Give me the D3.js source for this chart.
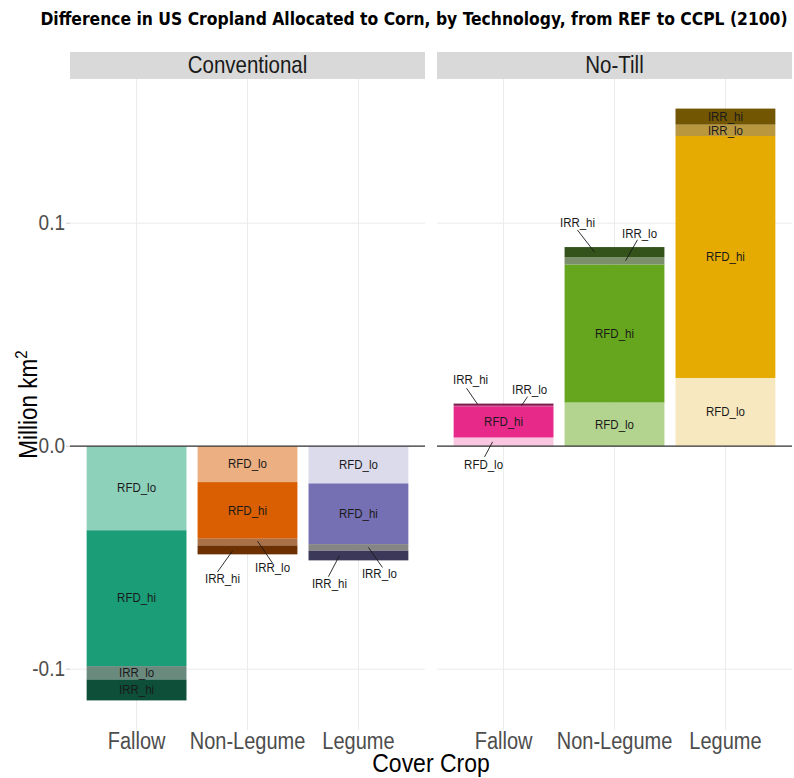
<!DOCTYPE html>
<html>
<head>
<meta charset="utf-8">
<script src="https://cdn.jsdelivr.net/npm/d3@7"></script>
<style>
  html, body { margin: 0; padding: 0; background: #ffffff; }
  svg { display: block; }
</style>
</head>
<body>
<svg id="chart" width="794" height="778"></svg>
<script>
// ---------------- DATA ----------------
const chartTitle = "Difference in US Cropland Allocated to Corn, by Technology, from REF to CCPL (2100)";
const technologies = ["Conventional", "No-Till"];
const coverCrops = ["Fallow", "Non-Legume", "Legume"];
const components = ["RFD_lo", "RFD_hi", "IRR_lo", "IRR_hi"];
// values (million km2), per cover crop, in component order
const conventionalFallow    = [-0.0377, -0.0609, -0.0060, -0.0094];
const conventionalNonLegume = [-0.0161, -0.0254, -0.0030, -0.0040];
const conventionalLegume    = [-0.0167, -0.0272, -0.0030, -0.0043];
const noTillFallow          = [0.0039, 0.0140, 0.0006, 0.0006];
const noTillNonLegume       = [0.0196, 0.0619, 0.0033, 0.0045];
const noTillLegume          = [0.0306, 0.1085, 0.0051, 0.0072];
const yTicks = [-0.1, 0.0, 0.1];
const yTickLabels = ["-0.1", "0.0", "0.1"];

// ---------------- STYLE ----------------
const fillColors = {
  "Conventional|Fallow":     ["#8ed1bb", "#1b9e77", "#6b8a7e", "#0d4f38"],
  "Conventional|Non-Legume": ["#ecaf82", "#d95f02", "#aa7047", "#6d3001"],
  "Conventional|Legume":     ["#dcdbec", "#7570b3", "#858585", "#3b385a"],
  "No-Till|Fallow":          ["#f9c8e0", "#e7298a", "#a83a72", "#741545"],
  "No-Till|Non-Legume":      ["#b3d48f", "#66a61e", "#7b8f6a", "#33531a"],
  "No-Till|Legume":          ["#f8e8c0", "#e6ab02", "#b9973f", "#735601"]
};
// repelled label layout (pixel offsets from segment centre): label, line start, line end
const repelLayout = {
  "Conventional|Non-Legume|IRR_hi": {lx: -25, ly: 29, sx: -15, sy: 1, ex: -30, ey: 22},
  "Conventional|Non-Legume|IRR_lo": {lx: 25, ly: 26, sx: 10, sy: -1, ex: 25, ey: 21},
  "Conventional|Legume|IRR_hi":     {lx: -29, ly: 28.5, sx: -19, sy: 0, ex: -30, ey: 21},
  "Conventional|Legume|IRR_lo":     {lx: 21, ly: 26, sx: 10, sy: 0, ex: 24, ey: 20},
  "No-Till|Fallow|RFD_lo":          {lx: -20, ly: 23, sx: -11, sy: 0, ex: -19, ey: 15},
  "No-Till|Fallow|IRR_lo":          {lx: 26, ly: -16, sx: 18, sy: 0, ex: 24, ey: -9},
  "No-Till|Fallow|IRR_hi":          {lx: -33, ly: -24, sx: -26, sy: 0, ex: -37, ey: -16},
  "No-Till|Non-Legume|IRR_lo":      {lx: 25, ly: -27, sx: 11, sy: 0, ex: 23, ey: -21},
  "No-Till|Non-Legume|IRR_hi":      {lx: -37, ly: -29, sx: -20, sy: 0, ex: -37, ey: -22}
};

const valuesByTech = {
  "Conventional": [conventionalFallow, conventionalNonLegume, conventionalLegume],
  "No-Till": [noTillFallow, noTillNonLegume, noTillLegume]
};

const FONT = "'Liberation Sans', Arial, sans-serif";
const STRETCH = 1.15;
const svg = d3.select("#chart");

// text helper: vertically stretched text anchored at (x, y) baseline
function txt(parent, x, y, str, size, fill, anchor, rot, stretch) {
  const s = stretch || STRETCH;
  const t = parent.append("text")
    .attr("transform", `translate(${x},${y})${rot ? ` rotate(${rot})` : ""} scale(1,${s})`)
    .attr("text-anchor", anchor || "middle")
    .attr("font-family", FONT)
    .attr("font-size", size)
    .attr("fill", fill);
  if (str !== null) t.text(str);
  return t;
}

// ---------------- LAYOUT ----------------
const panelLefts = [70, 437];
const panelWidth = 355;
const panelTop = 79;
const panelBottom = 730;
const stripTop = 52;

// y scale with 5% expansion of stacked extent
let allEnds = [];
technologies.forEach(t => valuesByTech[t].forEach(arr => {
  let c = 0; arr.forEach(v => { c += v; allEnds.push(c); });
}));
allEnds.push(0);
const yMin = d3.min(allEnds), yMax = d3.max(allEnds);
const yPad = (yMax - yMin) * 0.05;
const y = d3.scaleLinear().domain([yMin - yPad, yMax + yPad]).range([panelBottom, panelTop]);

// title: size fitted to the reference width
const title = svg.append("text")
  .attr("x", 414).attr("y", 25)
  .attr("text-anchor", "middle")
  .attr("font-family", "'Liberation Sans Narrow', 'DejaVu Sans Condensed', 'Liberation Sans', sans-serif")
  .attr("font-weight", "bold")
  .attr("font-size", 18)
  .attr("fill", "#000")
  .text(chartTitle);
const tw = title.node().getComputedTextLength();
const titleSize = Math.min(19, 18 * 748 / tw);
title.attr("font-size", titleSize);

technologies.forEach((tech, ti) => {
  const left = panelLefts[ti];
  const x = d3.scalePoint().domain(coverCrops).range([left, left + panelWidth]).padding(0.6);
  const step = x.step();
  const barW = step * 0.9;
  const g = svg.append("g");

  // strip
  g.append("rect").attr("x", left).attr("y", stripTop).attr("width", panelWidth)
    .attr("height", panelTop - stripTop).attr("fill", "#d9d9d9");
  txt(g, left + panelWidth / 2, (stripTop + panelTop) / 2 + 7.5, tech, 20.5, "#1a1a1a");

  // grid lines
  yTicks.forEach(t => {
    g.append("line").attr("x1", left).attr("x2", left + panelWidth)
      .attr("y1", y(t)).attr("y2", y(t)).attr("stroke", "#ebebeb").attr("stroke-width", 1);
  });
  coverCrops.forEach(c => {
    g.append("line").attr("x1", x(c)).attr("x2", x(c))
      .attr("y1", panelTop).attr("y2", panelBottom).attr("stroke", "#ebebeb").attr("stroke-width", 1);
  });

  // bars
  const segs = [];
  coverCrops.forEach((c, ci) => {
    const vals = valuesByTech[tech][ci];
    let cum = 0;
    vals.forEach((v, k) => {
      const y0 = cum, y1 = cum + v;
      cum = y1;
      segs.push({tech, crop: c, comp: components[k], y0, y1, color: fillColors[tech + "|" + c][k]});
    });
  });
  g.selectAll("rect.seg").data(segs).enter().append("rect")
    .attr("class", "seg")
    .attr("x", d => x(d.crop) - barW / 2)
    .attr("width", barW)
    .attr("y", d => Math.min(y(d.y0), y(d.y1)))
    .attr("height", d => Math.abs(y(d.y0) - y(d.y1)))
    .attr("fill", d => d.color);

  // zero line
  g.append("line").attr("x1", left).attr("x2", left + panelWidth)
    .attr("y1", y(0)).attr("y2", y(0)).attr("stroke", "#333333").attr("stroke-width", 1.2);

  // labels
  segs.forEach(d => {
    const cx = x(d.crop);
    const cy = (y(d.y0) + y(d.y1)) / 2;
    const key = d.tech + "|" + d.crop + "|" + d.comp;
    const r = repelLayout[key];
    if (r) {
      g.append("line").attr("x1", cx + r.sx).attr("y1", cy + r.sy)
        .attr("x2", cx + r.ex).attr("y2", cy + r.ey)
        .attr("stroke", "#1a1a1a").attr("stroke-width", 0.9);
      txt(g, cx + r.lx, cy + r.ly + 4.2, d.comp, 11.5, "#1a1a1a", "middle", 0, 1.1);
    } else {
      txt(g, cx, cy + 4.2, d.comp, 11.5, "#1a1a1a", "middle", 0, 1.1);
    }
  });

  // x tick labels
  coverCrops.forEach(c => {
    txt(g, x(c), 749, c, 20, "#4d4d4d");
  });
});

// y axis ticks and labels
yTicks.forEach((t, i) => {
  svg.append("line").attr("x1", 66).attr("x2", 70).attr("y1", y(t)).attr("y2", y(t))
    .attr("stroke", "#cccccc").attr("stroke-width", 1);
  txt(svg, 65, y(t) + 7, yTickLabels[i], 19, "#4d4d4d", "end");
});

// axis titles
const yt = txt(svg, 37, (panelTop + panelBottom) / 2, null, 22.5, "#000", "middle", -90);
yt.append("tspan").text("Million km");
yt.append("tspan").attr("font-size", 15).attr("dy", -9).text("2");

txt(svg, (panelLefts[0] + panelLefts[1] + panelWidth) / 2, 772, "Cover Crop", 23, "#000");
</script>
</body>
</html>
